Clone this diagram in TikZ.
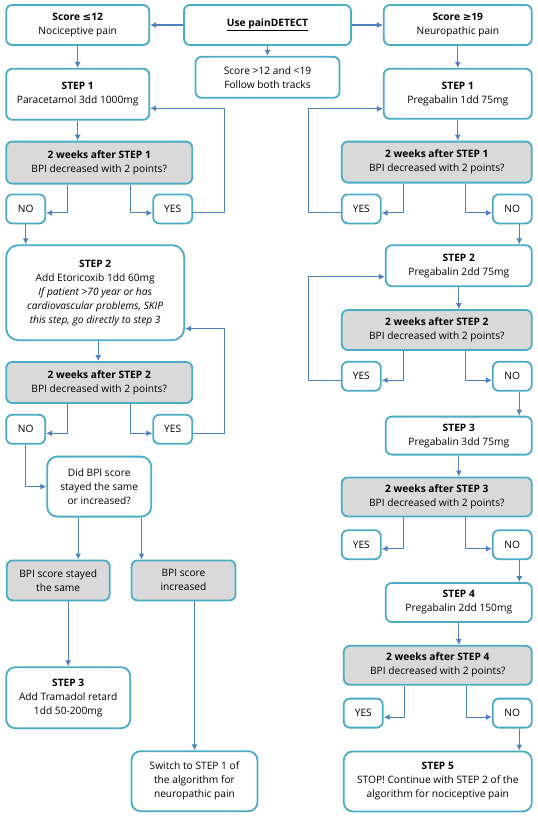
\documentclass[tikz,border=0pt]{standalone}
\usepackage{fontspec}
\setmainfont{Open Sans}
\newfontfamily\signfont{DejaVu Sans}
\usepackage{xcolor}
\usepackage{tikz}
\usetikzlibrary{shapes,arrows.meta,positioning}

\definecolor{boxline}{HTML}{4BACC6}
\definecolor{flowline}{HTML}{4F81BD}
\definecolor{askfill}{HTML}{D9D9D9}

\tikzset{
  stepbox/.style={draw=boxline, line width=1.8pt, rounded corners=6pt, fill=white,
    align=center, inner sep=2pt, font=\fontsize{10.2}{14}\selectfont},
  askbox/.style={stepbox, fill=askfill},
  ansbox/.style={stepbox, minimum width=39pt, minimum height=29pt},
  flow/.style={-{Latex[length=6pt,width=6pt]}, draw=flowline, line width=1.1pt}
}

\begin{document}
\begin{tikzpicture}[x=1pt, y=-1pt]
  \useasboundingbox (0,0) rectangle (538,817);

  % top row
  \node[stepbox, minimum width=167pt, minimum height=40pt] (detect) at (267.5,25) {\textbf{\underline{Use painDETECT}}};
  \node[stepbox, minimum width=143pt, minimum height=40pt, left=33pt of detect] (low) {\textbf{Score {\signfont ≤}12}\\Nociceptive pain};
  \node[stepbox, minimum width=148pt, minimum height=40pt, right=31pt of detect] (high) {\textbf{Score {\signfont ≥}19}\\Neuropathic pain};
  \node[stepbox, minimum width=144pt, minimum height=41pt, below=10pt of detect] (both) {Score >12 and <19\\Follow both tracks};

  % nociceptive track
  \node[stepbox, minimum width=143pt, minimum height=51pt, below=22pt of low] (lstep1) {\textbf{STEP 1}\\Paracetamol 3dd 1000mg};
  \node[askbox, minimum width=186pt, minimum height=42pt, below right=20pt and 0pt of lstep1.south west] (lask1) {\textbf{2 weeks after STEP 1}\\BPI decreased with 2 points?};
  \node[ansbox, below right=9pt and 0pt of lask1.south west] (lno1) {NO};
  \node[ansbox, below left=9pt and 0pt of lask1.south east] (lyes1) {YES};
  \node[stepbox, rounded corners=12pt, minimum width=178pt, minimum height=95pt, below right=20pt and 0pt of lno1.south west] (lstep2) {\textbf{STEP 2}\\Add Etoricoxib 1dd 60mg\\\textit{If patient >70 year or has}\\\textit{cardiovascular problems, SKIP}\\\textit{this step, go directly to step 3}};
  \node[askbox, minimum width=186pt, minimum height=41pt, below right=20pt and 0pt of lstep2.south west] (lask2) {\textbf{2 weeks after STEP 2}\\BPI decreased with 2 points?};
  \node[ansbox, below right=10pt and 0pt of lask2.south west] (lno2) {NO};
  \node[ansbox, below left=10pt and 0pt of lask2.south east] (lyes2) {YES};
  \node[stepbox, rounded corners=10pt, minimum width=104pt, minimum height=60pt, below right=11pt and 41pt of lno2.south west] (same) {Did BPI score\\stayed the same\\or increased?};
  \node[askbox, minimum width=103pt, minimum height=40pt, below=42pt of same, xshift=-41pt] (stayed) {BPI score stayed\\the same};
  \node[askbox, minimum width=104pt, minimum height=40pt, right=20pt of stayed] (incr) {BPI score\\increased};
  \node[stepbox, rounded corners=9pt, minimum width=124pt, minimum height=61pt, below=65pt of stayed, xshift=10pt] (lstep3) {\textbf{STEP 3}\\Add Tramadol retard\\1dd 50-200mg};
  \node[stepbox, rounded corners=9pt, minimum width=126pt, minimum height=60pt, below=149pt of incr, xshift=11pt] (switch) {Switch to STEP 1 of\\the algorithm for\\neuropathic pain};

  % neuropathic track
  \node[stepbox, minimum width=148pt, minimum height=50pt, below=22pt of high] (rstep1) {\textbf{STEP 1}\\Pregabalin 1dd 75mg};
  \node[askbox, minimum width=190pt, minimum height=41pt, below left=21pt and 0pt of rstep1.south east] (rask1) {\textbf{2 weeks after STEP 1}\\BPI decreased with 2 points?};
  \node[ansbox, below right=10pt and 0pt of rask1.south west] (ryes1) {YES};
  \node[ansbox, below left=10pt and 0pt of rask1.south east] (rno1) {NO};
  \node[stepbox, minimum width=146pt, minimum height=41pt, below left=20pt and 0pt of rno1.south east] (rstep2) {\textbf{STEP 2}\\Pregabalin 2dd 75mg};
  \node[askbox, minimum width=190pt, minimum height=40pt, below left=22pt and 0pt of rstep2.south east] (rask2) {\textbf{2 weeks after STEP 2}\\BPI decreased with 2 points?};
  \node[ansbox, below right=10pt and 0pt of rask2.south west] (ryes2) {YES};
  \node[ansbox, below left=10pt and 0pt of rask2.south east] (rno2) {NO};
  \node[stepbox, minimum width=146pt, minimum height=38pt, below left=24pt and 0pt of rno2.south east] (rstep3) {\textbf{STEP 3}\\Pregabalin 3dd 75mg};
  \node[askbox, minimum width=190pt, minimum height=39pt, below left=21pt and 0pt of rstep3.south east] (rask3) {\textbf{2 weeks after STEP 3}\\BPI decreased with 2 points?};
  \node[ansbox, below right=12pt and 0pt of rask3.south west] (ryes3) {YES};
  \node[ansbox, below left=12pt and 0pt of rask3.south east] (rno3) {NO};
  \node[stepbox, minimum width=146pt, minimum height=39pt, below left=22pt and 0pt of rno3.south east] (rstep4) {\textbf{STEP 4}\\Pregabalin 2dd 150mg};
  \node[askbox, minimum width=188pt, minimum height=39pt, below left=22pt and 0pt of rstep4.south east] (rask4) {\textbf{2 weeks after STEP 4}\\BPI decreased with 2 points?};
  \node[ansbox, below right=12pt and 0pt of rask4.south west] (ryes4) {YES};
  \node[ansbox, below left=12pt and 0pt of rask4.south east] (rno4) {NO};
  \node[stepbox, rounded corners=9pt, minimum width=188pt, minimum height=60pt, below left=22pt and 0pt of rno4.south east] (rstep5) {\textbf{STEP 5}\\STOP! Continue with STEP 2 of the\\algorithm for nociceptive pain};

  % connectors, top
  \draw[flow] (detect) -- (low);
  \draw[flow] (detect) -- (high);
  \draw[flow] (detect) -- (both);

  % connectors, nociceptive
  \draw[flow] (low) -- (lstep1);
  \draw[flow] (lstep1) -- (lstep1 |- lask1.north);
  \draw[flow] ([xshift=-32pt]lask1.south) |- ([yshift=-4pt]lno1.east);
  \draw[flow] ([xshift=31pt]lask1.south) |- ([yshift=-4pt]lyes1.west);
  \draw[flow] ([yshift=-4pt]lyes1.east) -- ++(31,0) |- ([yshift=-14pt]lstep1.east);
  \draw[flow] (lno1) -- (lno1 |- lstep2.north);
  \draw[flow] ([xshift=3pt]lstep2.south) -- ([xshift=3pt]lstep2.south |- lask2.north);
  \draw[flow] ([xshift=-32pt]lask2.south) |- ([yshift=-4pt]lno2.east);
  \draw[flow] ([xshift=31pt]lask2.south) |- ([yshift=-4pt]lyes2.west);
  \draw[flow] ([yshift=-4pt]lyes2.east) -- ++(31,0) |- ([yshift=-36pt]lstep2.east);
  \draw[flow] (lno2) |- (same);
  \draw[flow] ([xshift=20pt]stayed.north |- same.south) -- ([xshift=20pt]stayed.north);
  \draw[flow] ([xshift=-42pt]incr.north |- same.south) -- ([xshift=-42pt]incr.north);
  \draw[flow] (lstep3.north |- stayed.south) -- (lstep3.north);
  \draw[flow] (switch.north |- incr.south) -- (switch.north);

  % connectors, neuropathic
  \draw[flow] (high) -- (rstep1);
  \draw[flow] (rstep1) -- (rstep1 |- rask1.north);
  \draw[flow] ([xshift=-33pt]rask1.south) |- ([yshift=-4pt]ryes1.east);
  \draw[flow] ([xshift=29pt]rask1.south) |- ([yshift=-4pt]rno1.west);
  \draw[flow] ([yshift=-4pt]ryes1.west) -- ++(-32,0) |- ([yshift=-15pt]rstep1.west);
  \draw[flow] ([xshift=7pt]rno1.south) -- ([xshift=7pt]rno1.south |- rstep2.north);
  \draw[flow] (rstep2) -- (rstep2 |- rask2.north);
  \draw[flow] ([xshift=-33pt]rask2.south) |- ([yshift=-4pt]ryes2.east);
  \draw[flow] ([xshift=29pt]rask2.south) |- ([yshift=-4pt]rno2.west);
  \draw[flow] ([yshift=-4pt]ryes2.west) -- ++(-32,0) |- ([yshift=-11pt]rstep2.west);
  \draw[flow] ([xshift=7pt]rno2.south) -- ([xshift=7pt]rno2.south |- rstep3.north);
  \draw[flow] (rstep3) -- (rstep3 |- rask3.north);
  \draw[flow] ([xshift=-33pt]rask3.south) |- ([yshift=-4pt]ryes3.east);
  \draw[flow] ([xshift=29pt]rask3.south) |- ([yshift=-4pt]rno3.west);
  \draw[flow] ([xshift=7pt]rno3.south) -- ([xshift=7pt]rno3.south |- rstep4.north);
  \draw[flow] (rstep4) -- (rstep4 |- rask4.north);
  \draw[flow] ([xshift=-33pt]rask4.south) |- ([yshift=-4pt]ryes4.east);
  \draw[flow] ([xshift=29pt]rask4.south) |- ([yshift=-4pt]rno4.west);
  \draw[flow] ([xshift=7pt]rno4.south) -- ([xshift=7pt]rno4.south |- rstep5.north);
\end{tikzpicture}
\end{document}
